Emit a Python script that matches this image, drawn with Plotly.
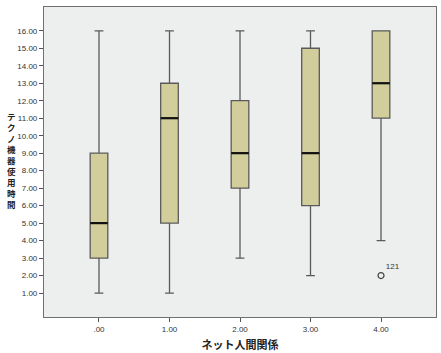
import plotly.graph_objects as go

categories = [".00", "1.00", "2.00", "3.00", "4.00"]
positions = [0, 1, 2, 3, 4]
lower = [1, 1, 3, 2, 4]
q1 = [3, 5, 7, 6, 11]
median = [5, 11, 9, 9, 13]
q3 = [9, 13, 12, 15, 16]
upper = [16, 16, 16, 16, 16]
outlier_x = [4]
outlier_y = [2]
outlier_labels = ["121"]
yticks = list(range(1, 17))

BOX_W = 0.25
fig = go.Figure()
fig.add_trace(go.Box(
    x=positions, q1=q1, median=median, q3=q3,
    lowerfence=lower, upperfence=upper,
    width=BOX_W, whiskerwidth=0.5,
    fillcolor="#D2CE9C", line=dict(color="#5A5A5A", width=1.3),
    boxpoints=False, hoverinfo="skip", showlegend=False,
))
mx, my = [], []
for p, m in zip(positions, median):
    mx += [p - BOX_W / 2, p + BOX_W / 2, None]
    my += [m, m, None]
fig.add_trace(go.Scatter(x=mx, y=my, mode="lines",
                         line=dict(color="#111111", width=2.2),
                         showlegend=False, hoverinfo="skip"))
fig.add_trace(go.Scatter(
    x=outlier_x, y=outlier_y, mode="markers+text",
    marker=dict(symbol="circle-open", size=6, color="#444444", line=dict(width=1.2)),
    text=outlier_labels, textposition="top right",
    textfont=dict(family="Liberation Sans", size=8, color="#333333"),
    showlegend=False, hoverinfo="skip"))

fig.update_layout(
    width=441, height=353,
    margin=dict(l=44, r=4, t=7, b=32),
    paper_bgcolor="white", plot_bgcolor="#EDEFEE",
    font=dict(family="Liberation Sans", size=8, color="#333333"),
    xaxis=dict(range=[-0.78, 4.78], tickvals=positions, ticktext=categories,
               ticks="outside", ticklen=4, tickcolor="#555555",
               showgrid=False, zeroline=False,
               showline=True, mirror=True, linecolor="#707070", linewidth=1.2,
               title=dict(text="<b>ネット人間関係</b>", standoff=8,
                          font=dict(family="Noto Sans CJK JP", size=11, color="#222222"))),
    yaxis=dict(range=[-0.37, 17.36], tickvals=yticks,
               ticktext=[f"{v:.2f}" for v in yticks],
               ticks="outside", ticklen=4, tickcolor="#555555",
               showgrid=False, zeroline=False,
               showline=True, mirror=True, linecolor="#707070", linewidth=1.2),
)
# vertical stacked y-axis title
title_chars = "テクノ機器使用時間"
plot_h = 353 - 7 - 32
center_px = 162
fig.add_annotation(
    text="<br>".join(f"<b>{c}</b>" for c in title_chars),
    xref="paper", yref="paper",
    x=(11 - 44) / 393, y=1 - (center_px - 7) / plot_h,
    xanchor="center", yanchor="middle",
    showarrow=False,
    font=dict(family="Noto Sans CJK JP", size=8.5, color="#222222"),
)
fig.write_html("out.html")
